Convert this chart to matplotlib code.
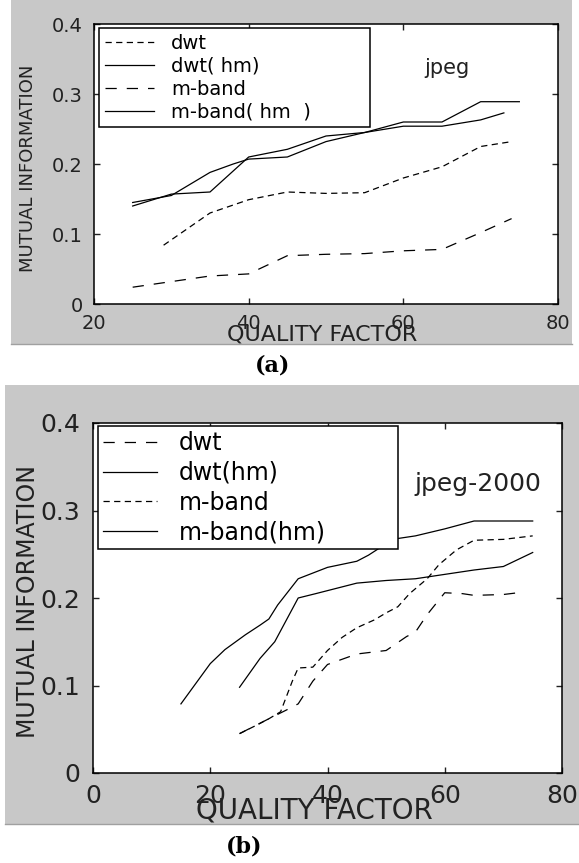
import numpy as np
import matplotlib.pyplot as plt
from matplotlib.patches import Rectangle

# ---- data ----
# (a) jpeg
qf_a_dwt = [29, 35, 40, 45, 50, 55, 60, 65, 70, 74]
mi_a_dwt = [0.084, 0.13, 0.149, 0.16, 0.158, 0.159, 0.18, 0.196, 0.225, 0.232]
qf_a_dwthm = [25, 30, 35, 38, 40, 45, 50, 55, 60, 65, 70, 73]
mi_a_dwthm = [0.145, 0.155, 0.188, 0.2, 0.207, 0.21, 0.232, 0.245, 0.254, 0.254, 0.263, 0.273]
qf_a_mb = [25, 30, 35, 40, 45, 50, 55, 60, 65, 70, 74]
mi_a_mb = [0.024, 0.032, 0.04, 0.043, 0.069, 0.071, 0.072, 0.076, 0.078, 0.102, 0.122]
qf_a_mbhm = [25, 30, 35, 40, 45, 50, 55, 60, 65, 70, 75]
mi_a_mbhm = [0.14, 0.157, 0.16, 0.21, 0.221, 0.24, 0.245, 0.26, 0.26, 0.289, 0.289]

# (b) jpeg-2000
qf_b_dwt = [25, 30, 33, 35, 37.5, 40, 45, 50, 53.5, 55, 57, 60, 63, 65, 70, 72.5]
mi_b_dwt = [0.045, 0.062, 0.072, 0.079, 0.105, 0.124, 0.136, 0.14, 0.156, 0.161,
            0.181, 0.206, 0.205, 0.203, 0.204, 0.206]
qf_b_dwthm = [25, 28.5, 31, 35, 38, 45, 50, 55, 60, 65, 70, 75]
mi_b_dwthm = [0.098, 0.131, 0.15, 0.2, 0.205, 0.217, 0.22, 0.222, 0.227, 0.232, 0.236, 0.252]
qf_b_mb = [25, 28, 30, 32, 34, 35, 37.5, 40, 42.5, 45, 48, 50, 52, 54, 57, 59, 62, 65, 70, 75]
mi_b_mb = [0.045, 0.055, 0.062, 0.07, 0.105, 0.12, 0.121, 0.14, 0.155, 0.166, 0.175,
           0.183, 0.19, 0.205, 0.222, 0.238, 0.255, 0.266, 0.267, 0.271]
qf_b_mbhm = [15, 20, 22.5, 26, 28.5, 30, 31.5, 35, 40, 45, 47, 50, 52, 55, 60, 65, 70, 75]
mi_b_mbhm = [0.079, 0.125, 0.141, 0.158, 0.169, 0.176, 0.192, 0.222, 0.235, 0.242,
             0.249, 0.262, 0.268, 0.271, 0.279, 0.288, 0.288, 0.288]

labels_a = ['dwt', 'dwt( hm)', 'm-band', 'm-band( hm  )']
labels_b = ['dwt', 'dwt(hm)', 'm-band', 'm-band(hm)']

W, H = 579, 863
fig = plt.figure(figsize=(W / 100, H / 100), dpi=100)
fig.patch.set_facecolor('white')
plt.rcParams['font.family'] = ['DejaVu Sans']

gray = '#c8c8c8'
tc = '#222222'
# grey panel backgrounds (pixel boxes -> figure fraction)
for x0, y0, x1, y1 in [(11, 0, 572, 344), (5, 385, 579, 824)]:
    fig.patches.append(Rectangle((x0 / W, 1 - y1 / H), (x1 - x0) / W, (y1 - y0) / H,
                                 transform=fig.transFigure, facecolor=gray,
                                 edgecolor='none', zorder=-10))
    fig.lines.append(plt.Line2D([x0 / W, x1 / W], [1 - y1 / H, 1 - y1 / H],
                                transform=fig.transFigure, color='#a0a0a0', lw=1))


def px_axes(l, t, r, b):
    return fig.add_axes([l / W, 1 - b / H, (r - l) / W, (b - t) / H])


short = (0, (5, 3.5))
long_ = (0, (9, 8))
lc = 'black'
lw = 0.9

# ---------------- (a) ----------------
ax = px_axes(94, 24, 558, 304)
h1, = ax.plot(qf_a_dwt, mi_a_dwt, color=lc, lw=lw, ls=short)
h2, = ax.plot(qf_a_dwthm, mi_a_dwthm, color=lc, lw=lw)
h3, = ax.plot(qf_a_mb, mi_a_mb, color=lc, lw=lw, ls=long_)
h4, = ax.plot(qf_a_mbhm, mi_a_mbhm, color=lc, lw=lw)
ax.set_xlim(20, 80)
ax.set_ylim(0, 0.4)
ax.set_xticks([20, 40, 60, 80])
ax.set_yticks([0, 0.1, 0.2, 0.3, 0.4])
ax.set_yticklabels(['0', '0.1', '0.2', '0.3', '0.4'])
ax.tick_params(direction='in', top=True, right=True, length=4, width=1,
               labelsize=14, colors=tc)
ax.tick_params(axis='x', pad=7)
ax.tick_params(axis='y', pad=8)
for s in ax.spines.values():
    s.set_linewidth(1.1)
ax.set_xlabel('QUALITY FACTOR', fontsize=16, va='center', color=tc)
ax.xaxis.set_label_coords((322 - 94) / 464, (304 - 334) / 280)
ax.set_ylabel('MUTUAL INFORMATION', fontsize=13, va='center', color=tc)
ax.yaxis.set_label_coords((28 - 94) / 464, (304 - 168) / 280)
ax.text(65.6, 0.337, 'jpeg', fontsize=15, ha='center', va='center', color=tc)
leg = ax.legend([h1, h2, h3, h4], labels_a, loc='upper left',
                bbox_to_anchor=(0.011, 0.629, 0.583, 0.357), mode='expand',
                borderaxespad=0, fancybox=False, edgecolor='black', framealpha=1,
                fontsize=14, handlelength=2.5, handletextpad=0.9,
                labelspacing=0.2, borderpad=0.3)
leg.get_frame().set_linewidth(1.1)
fig.text(273 / W, 1 - 365 / H, '(a)', fontsize=16, fontweight='bold',
         family='DejaVu Serif', ha='center', va='center')

# ---------------- (b) ----------------
ax = px_axes(93, 423, 562, 773)
g1, = ax.plot(qf_b_dwt, mi_b_dwt, color=lc, lw=lw, ls=long_)
g2, = ax.plot(qf_b_dwthm, mi_b_dwthm, color=lc, lw=lw)
g3, = ax.plot(qf_b_mb, mi_b_mb, color=lc, lw=lw, ls=short)
g4, = ax.plot(qf_b_mbhm, mi_b_mbhm, color=lc, lw=lw)
ax.set_xlim(0, 80)
ax.set_ylim(0, 0.4)
ax.set_xticks([0, 20, 40, 60, 80])
ax.set_yticks([0, 0.1, 0.2, 0.3, 0.4])
ax.set_yticklabels(['0', '0.1', '0.2', '0.3', '0.4'])
ax.tick_params(direction='in', top=True, right=True, length=4, width=1,
               labelsize=18, colors=tc)
ax.tick_params(axis='x', pad=8)
ax.tick_params(axis='y', pad=9)
for s in ax.spines.values():
    s.set_linewidth(1.1)
ax.set_xlabel('QUALITY FACTOR', fontsize=20, va='center', color=tc)
ax.xaxis.set_label_coords((314 - 93) / 469, (773 - 810) / 350)
ax.set_ylabel('MUTUAL INFORMATION', fontsize=17, va='center', color=tc)
ax.yaxis.set_label_coords((28 - 93) / 469, (773 - 601) / 350)
ax.text(65.7, 0.330, 'jpeg-2000', fontsize=18, ha='center', va='center', color=tc)
leg = ax.legend([g1, g2, g3, g4], labels_b, loc='upper left',
                bbox_to_anchor=(0.011, 0.629, 0.639, 0.362), mode='expand',
                borderaxespad=0, fancybox=False, edgecolor='black', framealpha=1,
                fontsize=17, handlelength=2.3, handletextpad=0.9,
                labelspacing=0.25, borderpad=0.2)
leg.get_frame().set_linewidth(1.1)
fig.text(244 / W, 1 - 846 / H, '(b)', fontsize=16, fontweight='bold',
         family='DejaVu Serif', ha='center', va='center')

fig.savefig('out.png', dpi=100)
